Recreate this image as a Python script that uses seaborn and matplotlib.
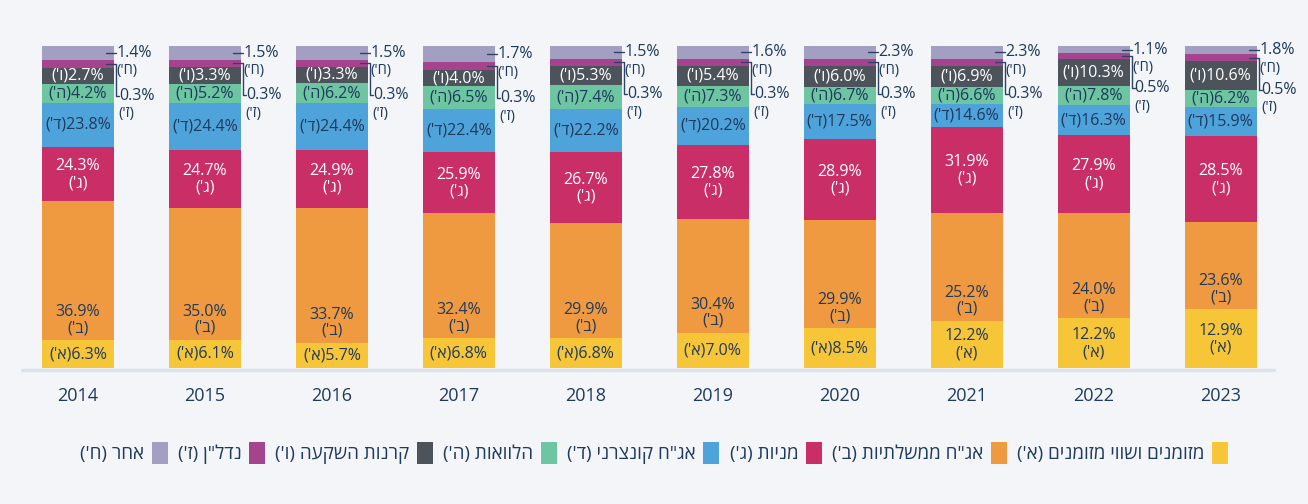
import matplotlib
matplotlib.use("Agg")
import matplotlib.pyplot as plt
from matplotlib.patches import Patch
import seaborn as sns
import numpy as np
import pandas as pd

years = ["2014", "2015", "2016", "2017", "2018", "2019", "2020", "2021", "2022", "2023"]

# printed shares (%)
cash = [6.3, 6.1, 5.7, 6.8, 6.8, 7.0, 8.5, 12.2, 12.2, 12.9]
gov_bonds = [36.9, 35.0, 33.7, 32.4, 29.9, 30.4, 29.9, 25.2, 24.0, 23.6]
stocks = [24.3, 24.7, 24.9, 25.9, 26.7, 27.8, 28.9, 31.9, 27.9, 28.5]
corp_bonds = [23.8, 24.4, 24.4, 22.4, 22.2, 20.2, 17.5, 14.6, 16.3, 15.9]
loans = [4.2, 5.2, 6.2, 6.5, 7.4, 7.3, 6.7, 6.6, 7.8, 6.2]
funds = [2.7, 3.3, 3.3, 4.0, 5.3, 5.4, 6.0, 6.9, 10.3, 10.6]
real_estate = [0.3, 0.3, 0.3, 0.3, 0.3, 0.3, 0.3, 0.3, 0.5, 0.5]
other = [1.4, 1.5, 1.5, 1.7, 1.5, 1.6, 2.3, 2.3, 1.1, 1.8]

# segment heights as drawn in the original (% of bar height)
cash_h = [8.7, 8.7, 7.8, 9.3, 9.3, 10.9, 12.4, 14.6, 15.5, 18.3]
gov_bonds_h = [43.2, 41.0, 41.9, 38.8, 35.7, 35.4, 33.5, 33.5, 32.6, 27.0]
stocks_h = [16.8, 18.0, 18.0, 18.9, 22.0, 23.0, 25.2, 26.7, 24.2, 26.7]
corp_bonds_h = [13.7, 14.6, 14.6, 13.4, 13.4, 11.8, 10.9, 7.1, 9.3, 9.0]
loans_h = [5.9, 5.9, 6.2, 7.1, 7.5, 6.5, 5.3, 5.3, 5.9, 5.3]
funds_h = [5.0, 5.3, 5.0, 5.0, 5.9, 6.2, 6.5, 6.5, 8.4, 9.0]
real_estate_h = [2.5, 2.2, 2.2, 2.5, 2.2, 2.2, 2.2, 2.2, 1.9, 2.2]
other_h = [4.3, 4.3, 4.3, 5.0, 4.0, 4.0, 4.0, 4.0, 2.2, 2.5]

names = ["מזומנים ושווי מזומנים", "אג\"ח ממשלתיות", "מניות", "אג\"ח קונצרני",
         "הלוואות", "קרנות השקעה", "נדל\"ן", "אחר"]
letters = ["א", "ב", "ג", "ד", "ה", "ו", "ז", "ח"]
colors = ["#f7c538", "#ef9a40", "#c92f66", "#4fa3db", "#6dc5a1", "#4c535b", "#a6438f", "#a39fc2"]

navy = "#1f3a5c"
bg = "#f3f5f8"


def rtl(s):
    # matplotlib has no bidi, so flip the hebrew text by hand
    mirror = {"(": ")", ")": "("}
    return "".join(mirror.get(c, c) for c in reversed(s))


def tag(letter):
    return rtl("(" + letter + "')")


vals = np.array([cash, gov_bonds, stocks, corp_bonds, loans, funds, real_estate, other])
H = np.array([cash_h, gov_bonds_h, stocks_h, corp_bonds_h, loans_h, funds_h, real_estate_h, other_h])
H = H / H.sum(axis=0) * 100
top = H.cumsum(axis=0)
bottom = top - H
mid = bottom + H / 2

sns.set_theme(style="white")
plt.rcParams["font.family"] = ["Open Sans", "DejaVu Sans"]

fig = plt.figure(figsize=(13.08, 5.04), dpi=100, facecolor=bg)
ax = fig.add_axes([22 / 1308, 136 / 504, 1252 / 1308, 322 / 504])
ax.set_facecolor(bg)

w = 0.567
for k in reversed(range(8)):
    df = pd.DataFrame({"year": years, "top": top[k]})
    sns.barplot(data=df, x="year", y="top", color=colors[k], width=w,
                saturation=1, errorbar=None, linewidth=0, ax=ax)

ax.set_xlim(-0.44, 9.42)
ax.set_ylim(0, 100)
ax.axhline(-0.6, color="#dde3ea", lw=2.5, clip_on=False, zorder=0)
for s in ax.spines.values():
    s.set_visible(False)
ax.set_xticks([])
ax.set_yticks([])
ax.set_xlabel("")
ax.set_ylabel("")

fs = 11.5
px = 1 / 127   # one pixel in x data units
py = 1 / 3.22  # one pixel in y data units
line_c = "#2d4565"

for i, yr in enumerate(years):
    ax.text(i, -28 * py, yr, ha="center", va="center", fontsize=13, color=navy)

    for k in range(6):
        v = f"{vals[k, i]:.1f}%"
        c = "white" if k in (2, 5) else navy
        if k == 1:
            b = bottom[k, i]
            ax.text(i, b + 28 * py, v, ha="center", va="center", fontsize=fs, color=c)
            ax.text(i, b + 12 * py, tag(letters[k]), ha="center", va="center", fontsize=fs, color=c)
        elif k == 2 or (k == 0 and H[k, i] > 13.5):
            m = mid[k, i]
            ax.text(i, m + 8 * py, v, ha="center", va="center", fontsize=fs, color=c)
            ax.text(i, m - 9 * py, tag(letters[k]), ha="center", va="center", fontsize=fs, color=c)
        else:
            ax.text(i, mid[k, i], tag(letters[k]) + v, ha="center", va="center", fontsize=fs, color=c)

    # small segments labelled outside the bar
    right = i + w / 2
    yh = mid[7, i]
    ax.plot([right - 8 * px, right + 2 * px], [yh, yh], color=line_c, lw=1, clip_on=False)
    ax.text(right + 3 * px, yh, f"{vals[7, i]:.1f}%", ha="left", va="center", fontsize=fs, color=navy)
    ax.text(right + 3 * px, yh - 18 * py, tag(letters[7]), ha="left", va="center", fontsize=fs - 1, color=navy)

    yz = mid[6, i]
    yl = yz - 32 * py
    ax.plot([right - 8 * px, right + 2 * px, right + 2 * px, right + 5 * px], [yz, yz, yl, yl],
            color=line_c, lw=1, clip_on=False)
    ax.text(right + 5 * px, yl, f"{vals[6, i]:.1f}%", ha="left", va="center", fontsize=fs, color=navy)
    ax.text(right + 5 * px, yl - 18 * py, tag(letters[6]), ha="left", va="center", fontsize=fs - 1, color=navy)

handles = [Patch(facecolor=colors[k], edgecolor="none") for k in reversed(range(8))]
labels = [rtl(names[k] + " (" + letters[k] + "')") for k in reversed(range(8))]
fig.legend(handles, labels, loc="center", bbox_to_anchor=(0.5, 1 - 453 / 504), ncol=8,
           frameon=False, markerfirst=False, handlelength=0.85, handleheight=1.5,
           handletextpad=0.4, columnspacing=0.55, fontsize=13.5, labelcolor=navy)

fig.savefig("out.png", dpi=100, facecolor=bg)
